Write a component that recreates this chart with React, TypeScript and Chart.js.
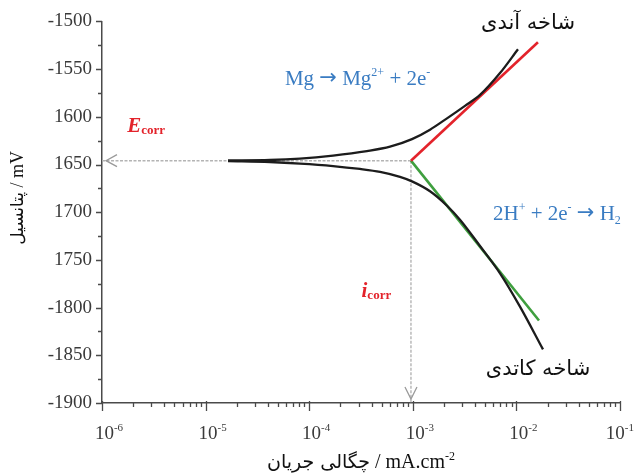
import React, { useEffect, useRef } from "react";
import { Chart, registerables } from "chart.js";

Chart.register(...registerables);

// Polarisation curve of magnesium: current density (log scale) vs. potential
const anodicCurrent = [1.645e-5, 4.18e-5, 8.15e-5, 1.7e-4, 3.61e-4, 6.03e-4, 9.82e-4, 1.466e-3, 2.138e-3, 3.19e-3, 4.453e-3, 6.946e-3, 1.036e-2];
const anodicPotential = [-1645.8, -1645.3, -1643.8, -1640.6, -1635.9, -1631.3, -1623.4, -1613.5, -1601.6, -1588.5, -1577.1, -1554.2, -1529.2];
const cathodicCurrent = [1.645e-5, 4.18e-5, 8.15e-5, 1.7e-4, 3.09e-4, 4.83e-4, 7.52e-4, 9.82e-4, 1.466e-3, 2.138e-3, 2.854e-3, 4.453e-3, 6.946e-3, 1.083e-2, 1.806e-2];
const cathodicPotential = [-1646.4, -1647.4, -1649.0, -1651.6, -1654.7, -1657.8, -1663.0, -1667.7, -1678.1, -1693.2, -1707.8, -1735.4, -1764.1, -1799.0, -1843.8];

// Corrosion point and the ends of the two Tafel lines [current, potential]
const iCorr = 9.6e-4;
const eCorr = -1646;
const anodicTafelEnd = [0.01614, -1521.9];
const cathodicTafelEnd = [0.01652, -1813.5];

// Axis ticks
const yMin = -1900;
const yMax = -1500;
const yMinorStep = 25;
const yTickValues = [-1500, -1550, -1600, -1650, -1700, -1750, -1800, -1850, -1900];
const yTickLabels = ["-1500", "-1550", "1600", "1650", "1700", "1750", "-1800", "-1850", "-1900"];
const xDecades = [1e-6, 1e-5, 1e-4, 1e-3, 1e-2, 1e-1];
const xDecadeExponents = ["-6", "-5", "-4", "-3", "-2", "-1"];

// Text anchors in data units [current, potential]
const anodeLabelAt = [0.01294, -1508.3];
const cathodeLabelAt = [0.01618, -1870.8];
const anodeReactionAt = [5.83e-5, -1566.7];
const cathodeReactionAt = [5.94e-3, -1708.3];
const eCorrLabelAt = [1.75e-6, -1615.6];
const iCorrLabelAt = [3.2e-4, -1788.5];
const yTitleCentre = -1685;

const SERIF = '"Liberation Serif", "Times New Roman", serif';
const FA = '"DejaVu Sans", sans-serif';
const BLUE = "#3a7cc2";
const RED = "#e3232b";
const GREEN = "#3f9f3f";
const AXIS = "#4a4a4a";

type Seg = { t: string; font: string; dy?: number };

function segsWidth(ctx: CanvasRenderingContext2D, segs: Seg[]) {
  let total = 0;
  for (const s of segs) {
    ctx.font = s.font;
    total += ctx.measureText(s.t).width;
  }
  return total;
}

function drawSegs(ctx: CanvasRenderingContext2D, segs: Seg[], x: number, y: number, align: "left" | "center") {
  const total = segsWidth(ctx, segs);
  let cx = align === "center" ? x - total / 2 : x;
  ctx.textAlign = "left";
  ctx.textBaseline = "alphabetic";
  for (const s of segs) {
    ctx.font = s.font;
    ctx.fillText(s.t, cx, y + (s.dy || 0));
    cx += ctx.measureText(s.t).width;
  }
}

const decorations = {
  id: "decorations",
  afterDraw(chart: any) {
    const ctx: CanvasRenderingContext2D = chart.ctx;
    const xs = chart.scales.x;
    const ys = chart.scales.y;
    const { left, right, bottom } = chart.chartArea;
    const X = (v: number) => xs.getPixelForValue(v);
    const Y = (v: number) => ys.getPixelForValue(v);
    ctx.save();

    // tick marks
    ctx.strokeStyle = AXIS;
    ctx.lineWidth = 1.3;
    ctx.beginPath();
    for (let v = yMin; v <= yMax; v += yMinorStep) {
      const major = yTickValues.includes(v);
      const py = Math.round(Y(v)) + 0.5;
      ctx.moveTo(left, py);
      ctx.lineTo(left - (major ? 6 : 4), py);
    }
    for (const d of xDecades) {
      for (let k = 1; k <= 9; k++) {
        const v = d * k;
        if (v > xDecades[xDecades.length - 1] * 1.0001) break;
        const px = Math.round(X(v)) + 0.5;
        ctx.moveTo(px, bottom - (k === 1 ? 2 : 0));
        ctx.lineTo(px, bottom + (k === 1 ? 8 : 4));
      }
    }
    ctx.stroke();

    // x tick labels as powers of ten
    ctx.fillStyle = "#3a3a3a";
    xDecades.forEach((d, i) => {
      const segs: Seg[] = [
        { t: "10", font: `19px ${SERIF}` },
        { t: xDecadeExponents[i], font: `11px ${SERIF}`, dy: -8 },
      ];
      const w = segsWidth(ctx, segs);
      let cx = X(d) + 7;
      if (cx + w / 2 > right + 14) cx = right + 14 - w / 2;
      drawSegs(ctx, segs, cx, bottom + 36, "center");
    });

    // arrow heads on the guide lines
    ctx.strokeStyle = "#9a9a9a";
    ctx.lineWidth = 1.3;
    const ey = Y(eCorr);
    const ix = X(iCorr);
    ctx.beginPath();
    ctx.moveTo(left + 15, ey - 6);
    ctx.lineTo(left + 4, ey);
    ctx.lineTo(left + 15, ey + 6);
    ctx.moveTo(ix - 6, bottom - 16);
    ctx.lineTo(ix, bottom - 4);
    ctx.lineTo(ix + 6, bottom - 16);
    ctx.stroke();

    // branch names
    ctx.fillStyle = "#111";
    drawSegs(ctx, [{ t: "شاخه آندی", font: `21px ${FA}` }], X(anodeLabelAt[0]), Y(anodeLabelAt[1]), "center");
    drawSegs(ctx, [{ t: "شاخه کاتدی", font: `21px ${FA}` }], X(cathodeLabelAt[0]), Y(cathodeLabelAt[1]), "center");

    // half reactions
    ctx.fillStyle = BLUE;
    drawSegs(
      ctx,
      [
        { t: "Mg ", font: `21px ${SERIF}` },
        { t: "→", font: `21px ${FA}`, dy: -1 },
        { t: " Mg", font: `21px ${SERIF}` },
        { t: "2+", font: `12px ${SERIF}`, dy: -9 },
        { t: " + 2e", font: `21px ${SERIF}` },
        { t: "-", font: `12px ${SERIF}`, dy: -9 },
      ],
      X(anodeReactionAt[0]),
      Y(anodeReactionAt[1]),
      "left"
    );
    drawSegs(
      ctx,
      [
        { t: "2H", font: `21px ${SERIF}` },
        { t: "+", font: `12px ${SERIF}`, dy: -9 },
        { t: " + 2e", font: `21px ${SERIF}` },
        { t: "-", font: `12px ${SERIF}`, dy: -9 },
        { t: " ", font: `21px ${SERIF}` },
        { t: "→", font: `21px ${FA}`, dy: -1 },
        { t: " H", font: `21px ${SERIF}` },
        { t: "2", font: `12px ${SERIF}`, dy: 4 },
      ],
      X(cathodeReactionAt[0]),
      Y(cathodeReactionAt[1]),
      "left"
    );

    // corrosion potential and current
    ctx.fillStyle = RED;
    drawSegs(
      ctx,
      [
        { t: "E", font: `italic bold 21px ${SERIF}` },
        { t: "corr", font: `bold 13px ${SERIF}`, dy: 2 },
      ],
      X(eCorrLabelAt[0]),
      Y(eCorrLabelAt[1]),
      "left"
    );
    drawSegs(
      ctx,
      [
        { t: "i", font: `italic bold 21px ${SERIF}` },
        { t: "corr", font: `bold 13px ${SERIF}`, dy: 2 },
      ],
      X(iCorrLabelAt[0]),
      Y(iCorrLabelAt[1]),
      "left"
    );

    // axis titles
    ctx.fillStyle = "#111";
    const cxTitle = (left + right) / 2;
    drawSegs(
      ctx,
      [
        { t: "چگالی جریان", font: `19px ${FA}` },
        { t: " / mA.cm", font: `20px ${SERIF}` },
        { t: "-2", font: `12px ${SERIF}`, dy: -8 },
      ],
      cxTitle,
      bottom + 65,
      "center"
    );
    ctx.save();
    ctx.translate(23, Y(yTitleCentre));
    ctx.rotate(-Math.PI / 2);
    drawSegs(
      ctx,
      [
        { t: "پتانسیل", font: `17px ${FA}` },
        { t: " / mV", font: `18px ${SERIF}` },
      ],
      0,
      0,
      "center"
    );
    ctx.restore();

    ctx.restore();
  },
};

const toPoints = (xs: number[], ys: number[]) => xs.map((x, i) => ({ x, y: ys[i] }));

export default function App() {
  const canvasRef = useRef<HTMLCanvasElement | null>(null);

  useEffect(() => {
    const canvas = canvasRef.current;
    if (!canvas) return;
    const chart = new Chart(canvas, {
      type: "line",
      data: {
        datasets: [
          {
            label: "anodic branch",
            data: toPoints(anodicCurrent, anodicPotential),
            borderColor: "#1c1c1c",
            borderWidth: 2.3,
            cubicInterpolationMode: "monotone",
            pointRadius: 0,
          },
          {
            label: "cathodic branch",
            data: toPoints(cathodicCurrent, cathodicPotential),
            borderColor: "#1c1c1c",
            borderWidth: 2.3,
            cubicInterpolationMode: "monotone",
            pointRadius: 0,
          },
          {
            label: "anodic Tafel line",
            data: [
              { x: iCorr, y: eCorr },
              { x: anodicTafelEnd[0], y: anodicTafelEnd[1] },
            ],
            borderColor: RED,
            borderWidth: 2.6,
            pointRadius: 0,
          },
          {
            label: "cathodic Tafel line",
            data: [
              { x: iCorr, y: eCorr },
              { x: cathodicTafelEnd[0], y: cathodicTafelEnd[1] },
            ],
            borderColor: GREEN,
            borderWidth: 2.6,
            pointRadius: 0,
          },
          {
            label: "Ecorr guide",
            data: [
              { x: xDecades[0], y: eCorr },
              { x: iCorr, y: eCorr },
            ],
            borderColor: "#b4b4b4",
            borderWidth: 1.4,
            borderDash: [3, 1.5],
            pointRadius: 0,
          },
          {
            label: "icorr guide",
            data: [
              { x: iCorr, y: eCorr },
              { x: iCorr, y: yMin },
            ],
            borderColor: "#b4b4b4",
            borderWidth: 1.4,
            borderDash: [3, 1.5],
            pointRadius: 0,
          },
        ],
      },
      options: {
        responsive: false,
        animation: false,
        devicePixelRatio: 1,
        layout: { padding: { top: 19, right: 16, left: 0, bottom: 0 } },
        plugins: { legend: { display: false }, tooltip: { enabled: false } },
        scales: {
          x: {
            type: "logarithmic",
            min: xDecades[0],
            max: xDecades[xDecades.length - 1],
            grid: { display: false },
            border: { display: true, color: AXIS, width: 1.5 },
            ticks: { display: false },
            afterFit: (s: any) => {
              s.height = 72;
            },
          },
          y: {
            type: "linear",
            min: yMin,
            max: yMax,
            grid: { display: false, drawTicks: false },
            border: { display: true, color: AXIS, width: 1.5 },
            ticks: {
              stepSize: yMinorStep,
              padding: 10,
              color: "#3a3a3a",
              font: { family: SERIF, size: 19 },
              callback: (v: any) => {
                const idx = yTickValues.indexOf(Number(v));
                return idx >= 0 ? yTickLabels[idx] : "";
              },
            },
            afterFit: (s: any) => {
              s.width = 102;
            },
          },
        },
      },
      plugins: [decorations],
    });
    return () => chart.destroy();
  }, []);

  return (
    <div style={{ position: "fixed", left: 0, top: 0, width: 636, height: 475, background: "#fff" }}>
      <canvas ref={canvasRef} width={636} height={475} />
    </div>
  );
}
